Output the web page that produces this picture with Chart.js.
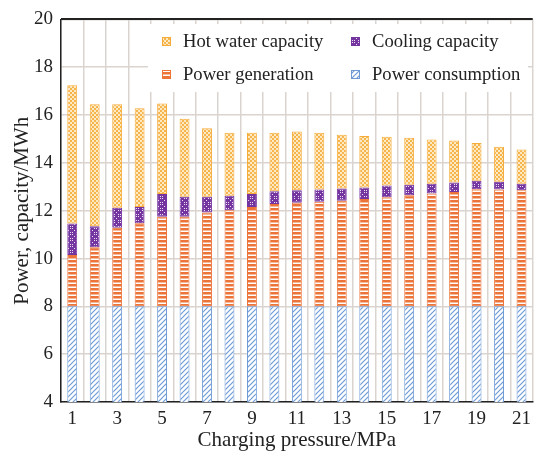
<!DOCTYPE html>
<html>
<head>
<meta charset="utf-8">
<script src="https://cdn.jsdelivr.net/npm/chart.js@4"></script>
<style>
  html, body { margin: 0; padding: 0; background: #fff; }
  canvas { display: block; }
</style>
</head>
<body>
<canvas id="energyChart" width="537" height="457"></canvas>
<script>
// Charging pressure categories (MPa)
const categories = ['1', '2', '3', '4', '5', '6', '7', '8', '9', '10', '11',
  '12', '13', '14', '15', '16', '17', '18', '19', '20', '21'];

// Stacked segments, MWh
const powerConsumption = [8, 8, 8, 8, 8, 8, 8, 8, 8, 8, 8, 8, 8, 8, 8, 8, 8, 8, 8, 8, 8];
const powerGeneration = [2.15, 2.47, 3.29, 3.47, 3.75, 3.75, 3.92, 4.02, 4.15, 4.28, 4.33,
  4.37, 4.42, 4.49, 4.56, 4.65, 4.72, 4.78, 4.90, 4.89, 4.85];
const coolingCapacity = [1.31, 0.88, 0.83, 0.68, 0.95, 0.83, 0.66, 0.60, 0.55, 0.53, 0.53,
  0.52, 0.51, 0.48, 0.49, 0.43, 0.41, 0.40, 0.35, 0.32, 0.28];
const hotWaterCapacity = [5.79, 5.10, 4.33, 4.13, 3.78, 3.27, 2.87, 2.64, 2.56, 2.45, 2.45,
  2.37, 2.25, 2.15, 2.04, 1.97, 1.85, 1.76, 1.58, 1.46, 1.43];

// Y axis range and tick step
const yMin = 4;
const yMax = 20;
const yStep = 2;

const SERIF = "'Times New Roman', 'Liberation Serif', serif";
const TEXT = '#222';

/* ---------- fill patterns ---------- */
function makePattern(w, h, draw) {
  const c = document.createElement('canvas');
  c.width = w;
  c.height = h;
  const g = c.getContext('2d');
  draw(g);
  return g.createPattern(c, 'repeat');
}

// blue diagonal hatch
const hatchBlue = makePattern(5, 5, g => {
  g.fillStyle = '#fff';
  g.fillRect(0, 0, 5, 5);
  g.strokeStyle = '#6e9bd6';
  g.lineWidth = 1.2;
  g.beginPath();
  g.moveTo(-1, 6); g.lineTo(6, -1);
  g.moveTo(-1, 1); g.lineTo(1, -1);
  g.moveTo(4, 6); g.lineTo(6, 4);
  g.stroke();
});

// orange horizontal stripes
const stripesOrange = makePattern(4, 4, g => {
  g.fillStyle = '#fff';
  g.fillRect(0, 0, 4, 4);
  g.fillStyle = '#ec7439';
  g.fillRect(0, 0, 4, 2.5);
});

// purple with white dotted crosses
const crossPurple = makePattern(6, 6, g => {
  g.fillStyle = '#7435a0';
  g.fillRect(0, 0, 6, 6);
  g.fillStyle = 'rgba(255,255,255,0.85)';
  [[0, 0], [2, 2], [4, 4], [4, 0], [0, 4]].forEach(([x, y]) => g.fillRect(x, y, 1, 1));
});

// yellow-orange checker
const checkerYellow = makePattern(4, 4, g => {
  g.fillStyle = '#f6b54c';
  g.fillRect(0, 0, 4, 4);
  g.fillStyle = '#fde9c2';
  g.fillRect(0, 0, 2, 2);
  g.fillRect(2, 2, 2, 2);
});

/* ---------- in-plot legend + top frame line ---------- */
const legendBox = {
  id: 'legendBox',
  beforeDatasetsDraw(chart) {
    const ctx = chart.ctx;
    ctx.save();
    ctx.fillStyle = '#fff';
    ctx.fillRect(148, 24, 380, 68);

    // reading order: hot water, cooling / generation, consumption
    const order = [3, 2, 1, 0];
    const slots = [[162, 41.5], [351, 41.5], [162, 74.5], [351, 74.5]];
    ctx.font = '18.6px ' + SERIF;
    ctx.textBaseline = 'middle';
    order.forEach((di, i) => {
      const ds = chart.data.datasets[di];
      const [x, y] = slots[i];
      ctx.fillStyle = ds.backgroundColor;
      ctx.fillRect(x, y - 4.5, 9, 9);
      ctx.strokeStyle = ds.borderColor;
      ctx.lineWidth = 1;
      ctx.strokeRect(x + 0.5, y - 4, 8, 8);
      ctx.fillStyle = TEXT;
      ctx.fillText(ds.label, x + 21, y + 1);
    });
    ctx.restore();
  },
  afterDraw(chart) {
    const ctx = chart.ctx;
    const area = chart.chartArea;
    ctx.save();
    ctx.fillStyle = '#222';
    ctx.fillRect(area.left, Math.round(area.top) - 1, area.right - area.left, 2);
    ctx.restore();
  }
};

/* ---------- chart ---------- */
function makeDataset(label, data, fill, border) {
  return {
    label,
    data,
    backgroundColor: fill,
    borderColor: border,
    borderWidth: 1,
    borderSkipped: false,
    barPercentage: 0.44,
    categoryPercentage: 1
  };
}

const chart = new Chart(document.getElementById('energyChart'), {
  type: 'bar',
  data: {
    labels: categories,
    datasets: [
      makeDataset('Power consumption', powerConsumption, hatchBlue, '#6e9bd6'),
      makeDataset('Power generation', powerGeneration, stripesOrange, '#ec7439'),
      makeDataset('Cooling capacity', coolingCapacity, crossPurple, '#7435a0'),
      makeDataset('Hot water capacity', hotWaterCapacity, checkerYellow, '#f5ac3a')
    ]
  },
  options: {
    responsive: false,
    animation: false,
    layout: { padding: { top: 14, right: 0, left: 0, bottom: 0 } },
    plugins: {
      legend: { display: false },
      tooltip: { enabled: false }
    },
    scales: {
      x: {
        stacked: true,
        grid: { offset: true, color: '#d9d4d0', lineWidth: 1.5, drawTicks: false },
        border: { color: '#222', width: 1.5 },
        ticks: {
          autoSkip: false,
          maxRotation: 0,
          padding: 6,
          color: TEXT,
          font: { family: SERIF, size: 19 },
          callback: (v, i) => (i % 2 === 0 ? categories[i] : '')
        },
        title: {
          display: true,
          text: 'Charging pressure/MPa',
          color: TEXT,
          font: { family: SERIF, size: 21 },
          padding: { top: 0, bottom: 4 }
        },
        afterFit: s => { s.height = 55; }
      },
      y: {
        stacked: true,
        min: yMin,
        max: yMax,
        grid: { color: '#d9d4d0', lineWidth: 1.5, drawTicks: false },
        border: { color: '#222', width: 1.5 },
        ticks: {
          stepSize: yStep,
          padding: 8,
          color: TEXT,
          font: { family: SERIF, size: 19 }
        },
        title: {
          display: true,
          text: 'Power, capacity/MWh',
          color: TEXT,
          font: { family: SERIF, size: 21 },
          padding: { top: 10, bottom: 0 }
        },
        afterFit: s => { s.width = 61; }
      }
    }
  },
  plugins: [legendBox]
});
</script>
</body>
</html>
